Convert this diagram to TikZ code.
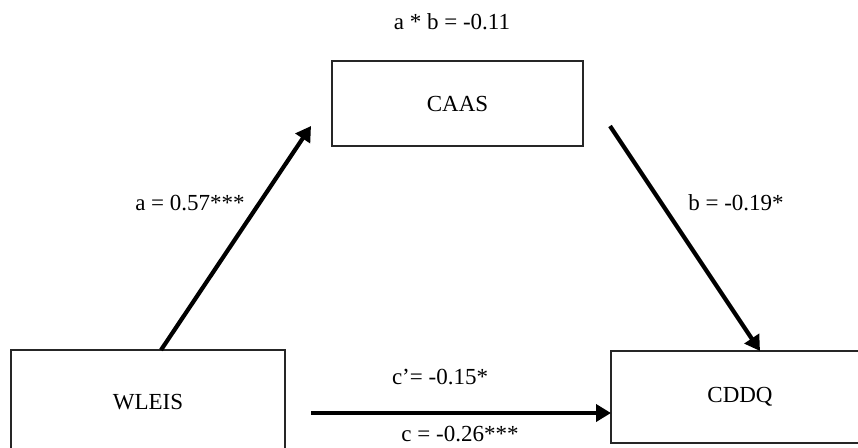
\documentclass[tikz,border=0pt]{standalone}
\usepackage{fontspec}
\setmainfont{Liberation Serif}
\usetikzlibrary{arrows.meta}
\tikzset{
  varbox/.style={draw=black!85, line width=1.3pt, minimum width=#1, inner sep=0pt, font=\fontsize{23}{27}\selectfont},
  path arrow/.style={line width=4.2pt, -{Triangle[length=15pt,width=17pt]}},
  coef/.style={font=\fontsize{23}{27}\selectfont, inner sep=0pt}
}
\begin{document}
\begin{tikzpicture}[x=1pt,y=-1pt]
\useasboundingbox (0,0) rectangle (858,447);
\clip (0,0) rectangle (858,447);
\node[varbox=251pt, minimum height=85pt] (caas) at (457.5,103.5) {CAAS};
\node[varbox=274pt, minimum height=104pt] (wleis) at (148,402) {WLEIS};
\node[varbox=258pt, minimum height=92pt] (cddq) at (740,397) {CDDQ};
\coordinate (aStart) at (161,350);
\coordinate (aTip) at (311,126);
\coordinate (bStart) at (610,126);
\coordinate (bTip) at (760,351);
\coordinate (cStart) at (311,413);
\coordinate (cTip) at (611,413);
\draw[path arrow] (aStart) -- (aTip);
\draw[path arrow] (bStart) -- (bTip);
\draw[path arrow] (cStart) -- (cTip);
\node[coef] (ab) at (452,22) {a * b = -0.11};
\node[coef] (la) at (190,203) {a = 0.57***};
\node[coef] (lb) at (736,203) {b = -0.19*};
\node[coef] (lcp) at (440,377) {c’= -0.15*};
\node[coef] (lc) at (460,434) {c = -0.26***};
\end{tikzpicture}
\end{document}
